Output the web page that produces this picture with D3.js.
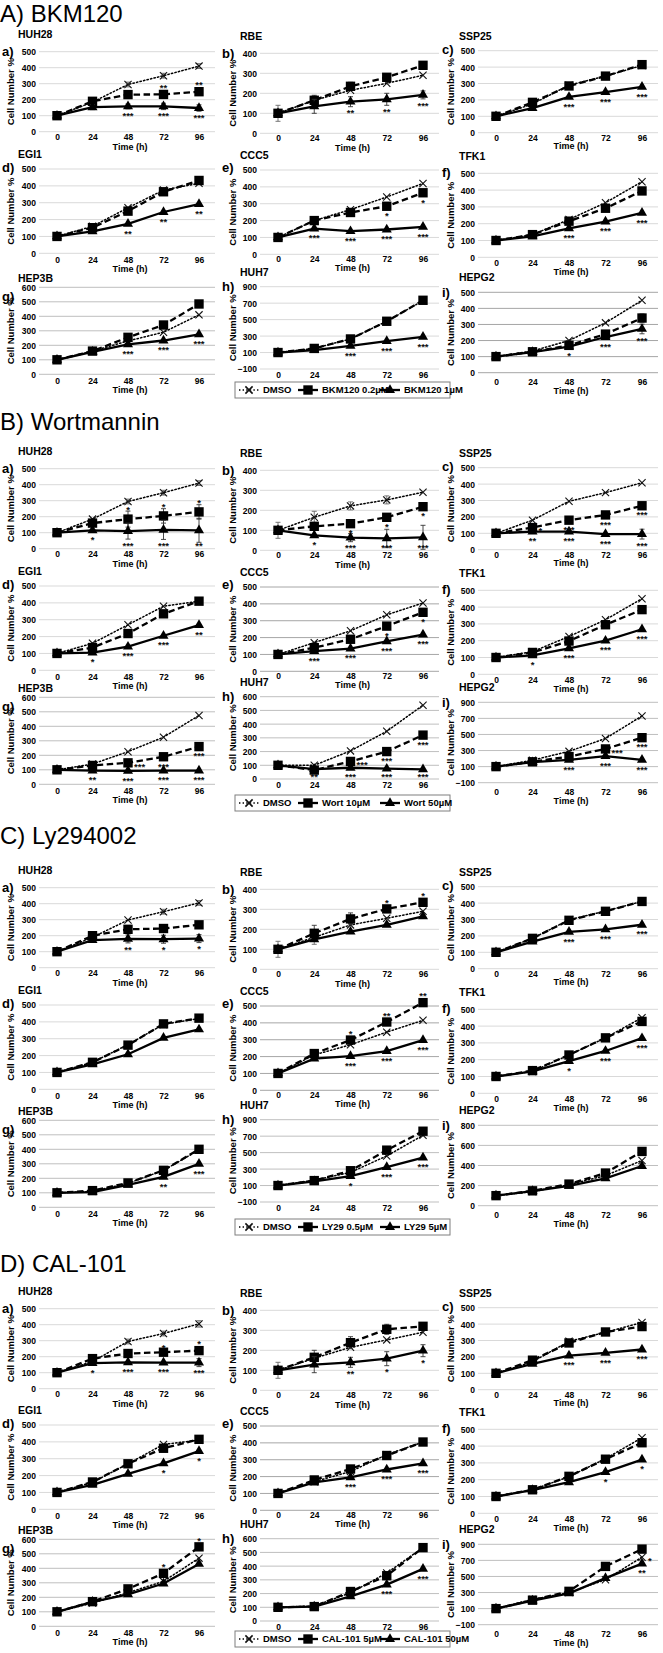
<!DOCTYPE html>
<html><head><meta charset="utf-8">
<script src="https://cdn.jsdelivr.net/npm/d3@7"></script>
<style>body{margin:0;background:#fff}svg{display:block}</style>
</head><body><svg id="c" width="663" height="1653"></svg>
<script>
// ---------------- DATA ----------------
const sectionTitles = ["A) BKM120", "B) Wortmannin", "C) Ly294002", "D) CAL-101"];
const legendA = ["DMSO", "BKM120 0.2µM", "BKM120 1µM"];
const legendB = ["DMSO", "Wort 10µM", "Wort 50µM"];
const legendC = ["DMSO", "LY29 0.5µM", "LY29 5µM"];
const legendD = ["DMSO", "CAL-101 5µM", "CAL-101 50µM"];
const cellLines = ["HUH28", "RBE", "SSP25", "EGI1", "CCC5", "TFK1", "HEP3B", "HUH7", "HEPG2"];
const panelLetters = ["a)", "b)", "c)", "d)", "e)", "f)", "g)", "h)", "i)"];
const timeLabels = ["0", "24", "48", "72", "96"];
const xTitle = "Time (h)";
const yTitle = "Cell Number %";

const t400 = [0, 100, 200, 300, 400];
const t500 = [0, 100, 200, 300, 400, 500];
const t600 = [0, 100, 200, 300, 400, 500, 600];
const t800 = [0, 200, 400, 600, 800];
const t900 = [-100, 100, 300, 500, 700, 900];
const ticksA = [t500, t400, t500, t500, t500, t500, t600, t900, t500];
const ticksB = [t500, t400, t500, t500, t500, t500, t600, t600, t900];
const ticksC = [t500, t400, t500, t500, t500, t500, t600, t900, t800];
const ticksD = [t500, t400, t500, t500, t500, t500, t600, t600, t900];

// BKM120
const A_dmso = [[100,185,295,350,410],[100,165,215,250,290],[100,175,290,345,410],[100,160,270,375,415],[100,200,265,340,420],[100,135,225,325,450],[100,160,230,290,410],[100,150,265,480,730],[100,135,200,310,450]];
const A_low  = [[100,190,232,233,250],[100,165,235,280,340],[100,185,285,345,415],[100,152,250,365,432],[100,200,248,285,365],[100,135,215,292,395],[100,160,255,340,485],[100,150,265,480,735],[100,130,170,240,340]];
const A_high = [[100,153,158,158,148],[100,135,158,170,192],[100,150,218,248,280],[100,130,175,245,292],[100,152,137,147,163],[100,125,172,213,265],[100,155,207,233,275],[100,130,180,240,290],[100,128,162,222,272]];
// Wortmannin
const B_dmso = [[100,185,295,350,410],[100,165,222,252,290],[100,180,295,348,408],[100,160,270,380,410],[100,170,240,335,405],[100,135,225,325,450],[100,140,225,325,475],[100,100,205,348,538],[100,180,290,450,730]];
const B_low  = [[100,160,185,205,230],[100,120,133,165,218],[100,135,180,212,268],[100,135,218,335,410],[100,140,190,268,350],[100,130,198,295,385],[100,130,148,190,260],[100,65,128,200,320],[100,160,225,320,460]];
const B_high = [[100,115,110,118,115],[100,75,63,60,65],[100,110,110,95,95],[100,105,140,205,268],[100,120,135,178,218],[100,113,155,200,268],[100,95,93,95,95],[100,72,82,75,70],[100,155,185,230,185]];
// Ly294002
const C_dmso = [[100,190,298,350,405],[100,160,222,255,290],[100,185,298,352,410],[100,160,265,385,420],[100,210,270,345,415],[100,130,228,330,450],[100,110,165,255,395],[100,165,260,460,710],[100,140,210,300,450]];
const C_low  = [[100,200,240,245,268],[100,180,252,302,335],[100,185,295,350,410],[100,160,262,388,422],[100,218,298,405,520],[100,135,228,330,428],[100,115,168,255,400],[100,160,280,530,760],[100,148,215,325,540]];
const C_high = [[100,172,180,178,182],[100,150,188,222,265],[100,165,225,240,268],[100,148,208,305,355],[100,188,203,232,298],[100,130,192,252,328],[100,105,155,210,300],[100,150,215,325,440],[100,145,198,272,395]];
// CAL-101
const D_dmso = [[100,170,295,345,405],[100,160,215,252,290],[100,170,295,350,410],[100,160,270,385,410],[100,170,230,330,405],[100,140,218,325,450],[100,160,232,310,470],[100,110,205,350,535],[100,215,300,460,740]];
const D_low  = [[100,188,220,228,238],[100,165,238,305,320],[100,180,285,352,385],[100,162,270,362,415],[100,180,245,325,405],[100,140,220,322,420],[100,170,258,365,548],[100,105,215,330,535],[100,205,315,625,840]];
const D_high = [[100,160,165,163,163],[100,128,140,158,198],[100,158,208,225,245],[100,145,210,272,345],[100,165,195,242,278],[100,138,185,245,320],[100,168,220,295,430],[100,105,180,265,380],[100,200,290,480,660]];

// error bars: [panel, series(0 DMSO,1 low,2 high), timeIndex, error]
const A_err = [[0,0,1,15],[0,0,2,15],[0,0,3,15],[0,0,4,15],[0,2,1,15],[0,2,2,15],[0,2,3,20],[0,2,4,20],
  [1,0,0,40],[1,1,1,25],[1,1,2,20],[1,2,1,35],[1,2,2,25],[1,2,3,30],[1,2,4,20],[8,1,4,25],[8,2,4,30]];
const B_err = [[0,0,2,15],[0,0,3,15],[0,0,4,15],[0,1,2,50],[0,1,3,45],[0,1,4,45],[0,2,2,50],[0,2,3,60],[0,2,4,75],
  [1,0,0,40],[1,0,1,30],[1,0,2,20],[1,0,3,20],[1,2,2,20],[1,2,3,45],[1,2,4,60],[2,2,4,30]];
const C_err = [[0,0,3,15],[0,0,4,15],[0,2,2,25],[0,2,3,25],[0,2,4,25],[1,0,0,40],[1,0,1,35],[1,1,1,40],[1,1,2,30]];
const D_err = [[0,0,2,15],[0,0,3,15],[0,0,4,20],[0,1,2,20],[0,1,3,20],[0,2,4,25],
  [1,0,0,40],[1,1,1,35],[1,1,2,30],[1,1,3,25],[1,2,1,40],[1,2,2,25],[1,2,3,35],[1,2,4,30]];

// significance marks: [series, timeIndex, text, place(a above / b below / r right)]
const A_stars = [
 [[1,3,"**","a"],[1,4,"**","a"],[2,2,"***","b"],[2,3,"***","b"],[2,4,"***","b"]],
 [[2,2,"**","b"],[2,3,"**","b"],[2,4,"***","b"]],
 [[2,2,"***","b"],[2,3,"***","b"],[2,4,"***","b"]],
 [[2,2,"**","b"],[2,3,"**","b"],[2,4,"**","b"]],
 [[1,3,"*","b"],[1,4,"*","b"],[2,1,"***","b"],[2,2,"***","b"],[2,3,"***","b"],[2,4,"***","b"]],
 [[2,2,"***","b"],[2,3,"***","b"],[2,4,"***","b"]],
 [[2,2,"***","b"],[2,3,"***","b"],[2,4,"***","b"]],
 [[2,2,"***","b"],[2,3,"***","b"],[2,4,"***","b"]],
 [[2,2,"*","b"],[2,3,"***","b"],[2,4,"***","b"]]];
const B_stars = [
 [[1,2,"*","a"],[1,3,"*","a"],[1,4,"*","a"],[2,1,"*","b"],[2,2,"***","b"],[2,3,"***","b"],[2,4,"**","b"]],
 [[1,2,"*","b"],[1,3,"*","b"],[1,4,"*","b"],[2,1,"*","b"],[2,2,"***","b"],[2,3,"***","b"],[2,4,"***","b"]],
 [[1,1,"*","r"],[1,2,"***","b"],[1,3,"***","b"],[1,4,"***","b"],[2,1,"**","b"],[2,2,"***","b"],[2,3,"***","b"],[2,4,"***","b"]],
 [[2,1,"*","b"],[2,2,"***","b"],[2,3,"***","b"],[2,4,"**","b"]],
 [[1,3,"*","b"],[1,4,"*","b"],[2,1,"***","b"],[2,2,"***","b"],[2,3,"***","b"],[2,4,"***","b"]],
 [[2,1,"*","b"],[2,2,"***","b"],[2,3,"***","b"],[2,4,"***","b"]],
 [[1,2,"***","r"],[1,3,"***","b"],[1,4,"***","b"],[2,1,"**","b"],[2,2,"***","b"],[2,3,"***","b"],[2,4,"***","b"]],
 [[1,2,"***","r"],[1,3,"***","b"],[1,4,"***","b"],[2,1,"**","b"],[2,2,"***","b"],[2,3,"***","b"],[2,4,"***","b"]],
 [[1,3,"***","r"],[1,4,"***","b"],[2,2,"***","b"],[2,3,"***","b"],[2,4,"***","b"]]];
const C_stars = [
 [[2,2,"**","b"],[2,3,"*","b"],[2,4,"*","b"]],
 [[1,3,"*","a"],[1,4,"*","a"]],
 [[2,2,"***","b"],[2,3,"***","b"],[2,4,"***","b"]],
 [],
 [[1,2,"*","a"],[1,3,"**","a"],[1,4,"**","a"],[2,2,"***","b"],[2,3,"***","b"],[2,4,"***","b"]],
 [[2,2,"*","b"],[2,3,"***","b"],[2,4,"***","b"]],
 [[2,3,"**","b"],[2,4,"***","b"]],
 [[2,2,"*","b"],[2,3,"***","b"],[2,4,"***","b"]],
 []];
const D_stars = [
 [[1,3,"*","a"],[1,4,"*","a"],[2,1,"*","b"],[2,2,"***","b"],[2,3,"***","b"],[2,4,"***","b"]],
 [[2,2,"**","b"],[2,3,"*","b"],[2,4,"*","b"]],
 [[2,2,"***","b"],[2,3,"***","b"],[2,4,"***","b"]],
 [[2,3,"*","b"],[2,4,"*","b"]],
 [[2,2,"***","b"],[2,3,"***","b"],[2,4,"***","b"]],
 [[2,3,"*","b"],[2,4,"*","b"]],
 [[1,3,"*","a"],[1,4,"*","a"]],
 [[2,3,"***","b"],[2,4,"***","b"]],
 [[0,4,"*","r"],[2,4,"**","b"]]];

// ---------------- STYLE / LAYOUT ----------------
const L = "#d9d9d9", M = "#bfbfbf", K = "#a6a6a6";
const gridColors = [[L,L,L,L,L,L,M,L,K],[L,L,L,L,K,L,M,M,M],[L,L,L,L,K,L,M,M,M],[L,L,L,L,K,L,M,M,M]];
const sectionTops = [0, 414, 836, 1255];
const rowShift = [[0,0,0],[3,3,-4],[0,0,-3],[2,1,-3]];
const titleY = [21.5, 16, 7.5, 16.5];
const legendShift = [0, -1, 1, -6];
const colGeo = [
  {x0:57, x96:199, nameX:18, letterX:2, ylabX:11},
  {x0:278, x96:423, nameX:240, letterX:222, ylabX:233},
  {x0:496, x96:642, nameX:459, letterX:442, ylabX:451}];
const panelGeo = [
  {c:0, top:51.7, bot:131.7, tk:137.3, tm:146.5, nm:34, lt:51},
  {c:1, top:53.3, bot:133.3, tk:138.3, tm:147.5, nm:36, lt:53},
  {c:2, top:50.7, bot:132.7, tk:138.3, tm:146, nm:36, lt:49},
  {c:0, top:169, bot:253.3, tk:260, tm:268.5, nm:154, lt:167},
  {c:1, top:170, bot:254.3, tk:259, tm:267.5, nm:155.7, lt:167},
  {c:2, top:173.3, bot:257.3, tk:263.3, tm:271.5, nm:156.7, lt:172},
  {c:0, top:287.3, bot:374.3, tk:381, tm:389.5, nm:278, lt:296},
  {c:1, top:286.7, bot:369, tk:375, tm:null, nm:272.7, lt:286.7},
  {c:2, top:292.3, bot:372.7, tk:381.7, tm:390.5, nm:277.3, lt:292.3}];

const NARROW = "'Liberation Sans Narrow','Arial Narrow','Liberation Sans',Arial,sans-serif";
const SANS = "'Liberation Sans',Arial,Helvetica,sans-serif";

const sections = [
  {title:sectionTitles[0], legend:legendA, ticks:ticksA, s:[A_dmso,A_low,A_high], err:A_err, stars:A_stars},
  {title:sectionTitles[1], legend:legendB, ticks:ticksB, s:[B_dmso,B_low,B_high], err:B_err, stars:B_stars},
  {title:sectionTitles[2], legend:legendC, ticks:ticksC, s:[C_dmso,C_low,C_high], err:C_err, stars:C_stars},
  {title:sectionTitles[3], legend:legendD, ticks:ticksD, s:[D_dmso,D_low,D_high], err:D_err, stars:D_stars}];

const xSym = {draw(c, s){ const r = Math.sqrt(s)/2; c.moveTo(-r,-r); c.lineTo(r,r); c.moveTo(r,-r); c.lineTo(-r,r); }};
const seriesStyle = [
  {dash:"1.4,2.2", w:1.5, sym:xSym, size:52, fill:"none", stroke:"#111", sw:1.1},
  {dash:"6.5,3.5", w:2.3, sym:d3.symbolSquare, size:88, fill:"#000", stroke:"none", sw:0},
  {dash:null, w:2.3, sym:d3.symbolTriangle, size:44, fill:"#000", stroke:"none", sw:0}];

// ---------------- DRAW ----------------
const svg = d3.select("#c");
svg.append("rect").attr("width",663).attr("height",1653).attr("fill","#fff");

function boldText(sel, size, fam){ return sel.attr("font-family", fam || NARROW).attr("font-weight","bold").attr("font-size",size).attr("fill","#000"); }

function drawPanel(G, si, p){
  const sec = sections[si], g0 = panelGeo[p], col = colGeo[g0.c];
  const dy = rowShift[si][Math.floor(p / 3)];
  const gm = {top:g0.top+dy, bot:g0.bot+dy, tk:g0.tk+dy, tm:g0.tm === null ? null : g0.tm+dy, nm:g0.nm+dy, lt:g0.lt+dy};
  const ticks = sec.ticks[p];
  const y = d3.scaleLinear().domain(d3.extent(ticks)).range([gm.bot, gm.top]);
  const x = d3.scalePoint().domain(timeLabels).range([col.x0, col.x96]);
  const g = G.append("g");
  const gl = col.x0 - 18, gr = col.x96 + 16;

  g.selectAll("line.grid").data(ticks).join("line").attr("class","grid")
    .attr("x1", gl).attr("x2", gr).attr("y1", d => y(d)).attr("y2", d => y(d))
    .attr("stroke", gridColors[si][p]).attr("stroke-width", 1);

  const ya = g.append("g").attr("transform", `translate(${gl-3},0)`)
    .call(d3.axisLeft(y).tickValues(ticks).tickSize(0).tickPadding(0));
  ya.select(".domain").remove();
  boldText(ya.selectAll("text"), 8.5).attr("dy","0.35em");

  const xa = g.append("g").attr("transform", `translate(0,${gm.tk})`)
    .call(d3.axisBottom(x).tickSize(0).tickPadding(0));
  xa.select(".domain").remove();
  boldText(xa.selectAll("text"), 8.5).attr("y",0).attr("dy","0.35em");

  if (gm.tm !== null) boldText(g.append("text"), 9).attr("x", x("48") + 2).attr("y", gm.tm)
    .attr("dy","0.35em").attr("text-anchor","middle").text(xTitle);

  boldText(g.append("text"), 9.5).attr("transform", `translate(${col.ylabX},${(gm.top+gm.bot)/2}) rotate(-90)`)
    .attr("dy","0.35em").attr("text-anchor","middle").text(yTitle);
  boldText(g.append("text"), 10.5).attr("x", col.nameX).attr("y", gm.nm).attr("dy","0.35em").text(cellLines[p]);
  boldText(g.append("text"), 13, SANS).attr("x", col.letterX).attr("y", gm.lt).attr("dy","0.35em").text(panelLetters[p]);

  const errs = sec.err.filter(e => e[0] === p);
  const errOf = (s, i) => { const e = errs.find(e => e[1] === s && e[2] === i); return e ? e[3] : 0; };

  sec.s.forEach((arr, s) => {
    const vals = arr[p], st = seriesStyle[s];
    const line = d3.line().x((d, i) => x(timeLabels[i])).y(d => y(d));
    g.append("path").attr("d", line(vals)).attr("fill","none").attr("stroke","#000")
      .attr("stroke-width", st.w).attr("stroke-dasharray", st.dash).attr("stroke-linecap", s === 0 ? "round" : "butt");
    errs.filter(e => e[1] === s).forEach(e => {
      const cx = x(timeLabels[e[2]]), v = vals[e[2]];
      const y1 = y(v - e[3]), y2 = y(v + e[3]);
      const eg = g.append("g").attr("stroke", s === 0 ? "#666" : "#333").attr("stroke-width", 0.9);
      eg.append("line").attr("x1",cx).attr("x2",cx).attr("y1",y1).attr("y2",y2);
      eg.append("line").attr("x1",cx-2.5).attr("x2",cx+2.5).attr("y1",y1).attr("y2",y1);
      eg.append("line").attr("x1",cx-2.5).attr("x2",cx+2.5).attr("y1",y2).attr("y2",y2);
    });
    g.selectAll(null).data(vals).join("path")
      .attr("transform", (d, i) => `translate(${x(timeLabels[i])},${y(d)})`)
      .attr("d", d3.symbol().type(st.sym).size(st.size))
      .attr("fill", st.fill).attr("stroke", st.stroke).attr("stroke-width", st.sw);
  });

  sec.stars[p].forEach(([s, i, txt, pl]) => {
    const v = sec.s[s][p][i], e = errOf(s, i), cx = x(timeLabels[i]);
    const t = g.append("text").attr("font-family", SANS).attr("font-weight","bold").attr("font-size", 9.5).attr("fill","#111")
      .attr("text-anchor", pl === "r" ? "start" : "middle").attr("dy","0.5em").text(txt);
    if (pl === "b") t.attr("x", cx).attr("y", Math.min(y(v - e) + (e ? 5 : 8), gm.bot - 4));
    else if (pl === "a") t.attr("x", cx).attr("y", y(v + e) - (e ? 3 : 8));
    else t.attr("x", cx + 6).attr("y", y(v) + 2);
  });
}

function drawLegend(G, labels, dy){
  const lg = G.append("g").attr("transform", `translate(0,${dy})`);
  lg.append("rect").attr("x",235).attr("y",382).attr("width",215).attr("height",16)
    .attr("fill","#fff").attr("stroke","#7f7f7f").attr("stroke-width",1);
  const ix = [239, 298, 380], cy = 390;
  labels.forEach((t, i) => {
    const st = seriesStyle[i];
    lg.append("line").attr("x1", ix[i]).attr("x2", ix[i] + 20).attr("y1", cy).attr("y2", cy)
      .attr("stroke","#000").attr("stroke-width", st.w).attr("stroke-dasharray", i === 0 ? st.dash : null);
    lg.append("path").attr("transform", `translate(${ix[i]+10},${cy})`)
      .attr("d", d3.symbol().type(st.sym).size(st.size))
      .attr("fill", st.fill).attr("stroke", st.stroke).attr("stroke-width", i === 0 ? 1.6 : 0);
    boldText(lg.append("text"), 9.5).attr("x", ix[i] + 24).attr("y", cy).attr("dy","0.35em").text(t);
  });
}

sections.forEach((sec, si) => {
  const G = svg.append("g").attr("transform", `translate(0,${sectionTops[si]})`);
  G.append("text").attr("x", 0).attr("y", titleY[si]).attr("font-family", SANS).attr("font-size", 24).attr("fill","#000").text(sec.title);
  for (let p = 0; p < 9; p++) drawPanel(G, si, p);
  drawLegend(G, sec.legend, legendShift[si]);
});
</script></body></html>
